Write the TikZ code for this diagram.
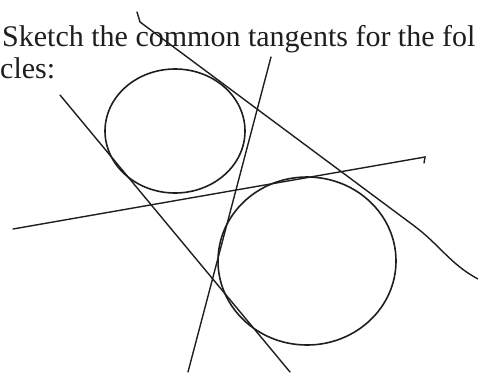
\documentclass[tikz,border=0pt]{standalone}
\usepackage{fontspec}
\setmainfont{Liberation Serif}
\definecolor{ink}{HTML}{1E1E1E}
\tikzset{
  pen/.style={draw=ink,line width=1.4pt,line cap=round},
  ring/.style={draw=ink,line width=1.6pt},
  prompt/.style={anchor=base west,inner sep=0pt,text=ink,font=\fontsize{30}{30}\selectfont},
}
\begin{document}
\begin{tikzpicture}[x=1pt,y=-1pt]
  \useasboundingbox (0,0) rectangle (478,372);
  \clip (0,0) rectangle (478,372);

  % Question text, cut off by the page edge.
  \node[prompt] (ask) at (2,46) {Sketch the common tangents for the fol};
  \node[prompt] (cles) at (0,78) {cles:};

  % The two circles.
  \draw[ring] (175,131) ellipse [x radius=70,y radius=62];
  \draw[ring] (307,261) ellipse [x radius=89,y radius=84];

  % End points of the four tangents.
  \coordinate (lowA) at (60,95);   \coordinate (lowB) at (290,372);
  \coordinate (upA)  at (140,22);  \coordinate (upB)  at (413,225);
  \coordinate (upC)  at (478,279);
  \coordinate (crA)  at (13,229);  \coordinate (crB)  at (425,157);
  \coordinate (stA)  at (271,57);  \coordinate (stB)  at (188,372);

  % External tangents.
  \draw[pen] (lowA) -- (lowB);
  \draw[pen] (137,12) -- (upA) -- (upB)
    .. controls (440,245) and (450,264) .. (upC);
  % Internal tangents.
  \draw[pen] (crA) -- (crB) -- ++(-1,6);
  \draw[pen] (stA) -- (stB);
\end{tikzpicture}
\end{document}
